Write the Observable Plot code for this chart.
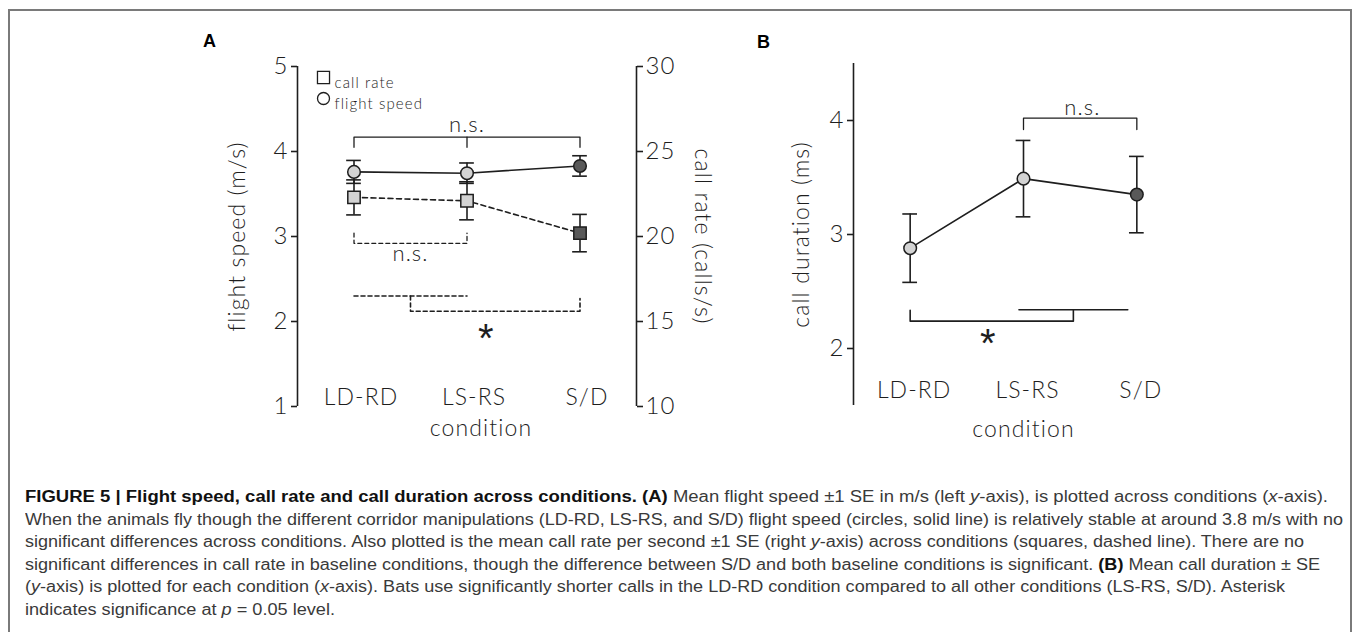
<!DOCTYPE html>
<html><head><meta charset="utf-8">
<script src="https://cdn.jsdelivr.net/npm/d3@7"></script>
<script src="https://cdn.jsdelivr.net/npm/@observablehq/plot@0.6"></script>
<style>
html,body{margin:0;padding:0;background:#fff;}
body{width:1358px;height:632px;overflow:hidden;position:relative;}
#box{position:absolute;left:8px;top:9px;width:1344px;height:660px;border:2px solid #7a7a7a;box-sizing:border-box;}
.panel{position:absolute;}
.panel svg text{letter-spacing:1.1px;}
.plbl{position:absolute;font:bold 18px "Liberation Sans",Arial,sans-serif;color:#000;line-height:1;}
.cl{position:absolute;left:25px;white-space:nowrap;font:16px "Liberation Sans",Arial,sans-serif;color:#3a3a3a;transform-origin:0 50%;line-height:1;}
.cl b{color:#111;}
</style></head><body>
<div id="box"></div>
<div class="plbl" style="left:203px;top:32px">A</div>
<div class="plbl" style="left:757px;top:33px">B</div>
<div id="pA1" class="panel" style="left:160px;top:30px"></div>
<div id="pA2" class="panel" style="left:160px;top:30px"></div>
<div id="pB" class="panel" style="left:700px;top:30px"></div>
<div id="cap"></div>
<script>
// ---------- data ----------
const conditions = ["LD-RD", "LS-RS", "S/D"];
const flightSpeed = [3.76, 3.745, 3.83];        // m/s
const flightSpeedSE = [0.135, 0.12, 0.12];
const callRate = [22.3, 22.1, 20.2];             // calls/s
const callRateSE = [1.03, 1.12, 1.1];
const callDuration = [2.88, 3.49, 3.35];         // ms
const callDurationSE = [0.30, 0.335, 0.335];
const speedTicks = [1, 2, 3, 4, 5];
const rateTicks = [10, 15, 20, 25, 30];
const durationTicks = [2, 3, 4];

// ---------- styles ----------
const ink = "#1e1e1e";
const light = "#d3d3d3";
const dark = "#595959";
const font = 'Lato, "Open Sans", "DejaVu Sans", sans-serif';
const cap = 0.065;       // half width of error-bar caps in x units
const fillOf = d => d.c === "S/D" ? dark : light;

const rowsA = conditions.map((c, i) => ({i, c, fs: flightSpeed[i], fsSE: flightSpeedSE[i], cr: callRate[i], crSE: callRateSE[i]}));
const rowsB = conditions.map((c, i) => ({i, c, cd: callDuration[i], cdSE: callDurationSE[i]}));

// significance brackets (annotation paths in data units)
const bracketSpeed = [
  [[0, 4.05], [0, 4.17], [2, 4.17], [2, 4.05]],
  [[1, 4.17], [1, 4.05]]
];
const bracketRateNS = [[[0, 20.2], [0, 19.6], [1, 19.6], [1, 20.2]]];
const bracketRateStar = [
  [[0, 16.5], [1, 16.5]],
  [[0.5, 16.5], [0.5, 15.6], [2, 15.6], [2, 16.35]]
];
const bracketDurNS = [[[1, 3.92], [1, 4.02], [2, 4.02], [2, 3.92]]];
const bracketDurStar = [
  [[0, 2.335], [0, 2.24], [1.44, 2.24], [1.44, 2.34]],
  [[0.96, 2.34], [1.92, 2.34]]
];
const flat = b => b.flatMap((seg, k) => seg.map(([x, y]) => ({x, y, k})));

const common = {
  style: {fontFamily: font, fontSize: "22px", color: ink, background: "transparent", overflow: "visible", fontWeight: 300}
};

function errorMarks(rows, key, seKey) {
  return [
    Plot.ruleX(rows, {x: "i", y1: d => d[key] - d[seKey], y2: d => d[key] + d[seKey], stroke: ink, strokeWidth: 1.6}),
    Plot.ruleY(rows, {y: d => d[key] + d[seKey], x1: d => d.i - cap, x2: d => d.i + cap, stroke: ink, strokeWidth: 1.6}),
    Plot.ruleY(rows, {y: d => d[key] - d[seKey], x1: d => d.i - cap, x2: d => d.i + cap, stroke: ink, strokeWidth: 1.6})
  ];
}
const star = (x, y) => Plot.text(["*"], {text: d => d, x, y, fontSize: 40, fontFamily: '"Liberation Sans", Arial, sans-serif', fill: ink, dy: 7});

// ---------- Panel A: flight speed (left axis) ----------
const dimsA = {width: 560, height: 420, marginLeft: 137, marginRight: 84, marginTop: 36, marginBottom: 44};
const plotA1 = Plot.plot({
  ...dimsA, ...common,
  x: {domain: [-0.5, 2.5], axis: null},
  y: {domain: [1, 5], axis: null},
  marks: [
    Plot.ruleX([-0.5], {y1: 1, y2: 5, stroke: ink, strokeWidth: 1.6}),
    Plot.axisY({ticks: speedTicks, tickSize: 6, tickPadding: 3, tickFormat: d => d, label: null, fontSize: 24, strokeWidth: 1.6}),
    Plot.text(["flight speed (m/s)"], {text: d => d, frameAnchor: "left", textAnchor: "middle", rotate: -90, dx: -60, fontSize: 23}),
    Plot.line(flat(bracketSpeed), {x: "x", y: "y", z: "k", stroke: ink, strokeWidth: 1.3}),
    Plot.text(["n.s."], {text: d => d, x: 1, y: 4.31, fontSize: 22}),
    ...errorMarks(rowsA, "fs", "fsSE"),
    Plot.line(rowsA, {x: "i", y: "fs", stroke: ink, strokeWidth: 1.6}),
    Plot.dot(rowsA, {x: "i", y: "fs", r: 6.3, fill: fillOf, stroke: ink, strokeWidth: 1.5}),
    Plot.text(rowsA, {x: "i", text: "c", frameAnchor: "bottom", dy: -2, dx: 7, fontSize: 23}),
    Plot.text(["condition"], {text: d => d, frameAnchor: "bottom", dy: 29, dx: 14, fontSize: 23}),
    // legend
    Plot.dot(["call rate"], {frameAnchor: "top-left", dx: 26, dy: 11, symbol: "square", r: 6.8, fill: "white", stroke: ink, strokeWidth: 1.3}),
    Plot.dot(["flight speed"], {frameAnchor: "top-left", dx: 26, dy: 32, r: 6, fill: "white", stroke: ink, strokeWidth: 1.3}),
    Plot.text(["call rate"], {text: d => d, frameAnchor: "top-left", dx: 37, dy: 11, textAnchor: "start", fontSize: 15}),
    Plot.text(["flight speed"], {text: d => d, frameAnchor: "top-left", dx: 37, dy: 32, textAnchor: "start", fontSize: 15})
  ]
});
document.getElementById("pA1").append(plotA1);

// ---------- Panel A: call rate (right axis, overlaid) ----------
const plotA2 = Plot.plot({
  ...dimsA, ...common,
  x: {domain: [-0.5, 2.5], axis: null},
  y: {domain: [10, 30], axis: null},
  marks: [
    Plot.ruleX([2.5], {y1: 10, y2: 30, stroke: ink, strokeWidth: 1.6}),
    Plot.axisY({anchor: "right", ticks: rateTicks, tickSize: 6, tickPadding: 3, tickFormat: d => d, label: null, fontSize: 24, strokeWidth: 1.6}),
    Plot.text(["call rate (calls/s)"], {text: d => d, frameAnchor: "right", textAnchor: "middle", rotate: 90, dx: 66, fontSize: 23}),
    Plot.line(flat(bracketRateNS), {x: "x", y: "y", z: "k", stroke: ink, strokeWidth: 1.3, strokeDasharray: "4,3"}),
    Plot.text(["n.s."], {text: d => d, x: 0.5, y: 19.0, fontSize: 22}),
    Plot.line(flat(bracketRateStar), {x: "x", y: "y", z: "k", stroke: ink, strokeWidth: 1.6, strokeDasharray: "4,3"}),
    star(1.17, 14.35),
    ...errorMarks(rowsA, "cr", "crSE"),
    Plot.line(rowsA, {x: "i", y: "cr", stroke: ink, strokeWidth: 1.6, strokeDasharray: "5,3.5"}),
    Plot.dot(rowsA, {x: "i", y: "cr", symbol: "square", r: 7, fill: fillOf, stroke: ink, strokeWidth: 1.5})
  ]
});
document.getElementById("pA2").append(plotA2);

// ---------- Panel B: call duration ----------
const plotB = Plot.plot({
  width: 540, height: 420, marginLeft: 153, marginRight: 47, marginTop: 33, marginBottom: 45, ...common,
  x: {domain: [-0.5, 2.5], axis: null},
  y: {domain: [1.5, 4.5], axis: null},
  marks: [
    Plot.ruleX([-0.5], {y1: 1.5, y2: 4.5, stroke: ink, strokeWidth: 1.6}),
    Plot.axisY({ticks: durationTicks, tickSize: 6, tickPadding: 3, tickFormat: d => d, label: null, fontSize: 24, strokeWidth: 1.6}),
    Plot.text(["call duration (ms)"], {text: d => d, frameAnchor: "left", textAnchor: "middle", rotate: -90, dx: -52, fontSize: 23}),
    Plot.line(flat(bracketDurNS), {x: "x", y: "y", z: "k", stroke: ink, strokeWidth: 1.3}),
    Plot.text(["n.s."], {text: d => d, x: 1.52, y: 4.11, fontSize: 22}),
    Plot.line(flat(bracketDurStar), {x: "x", y: "y", z: "k", stroke: ink, strokeWidth: 1.6}),
    star(0.69, 2.1),
    ...errorMarks(rowsB, "cd", "cdSE"),
    Plot.line(rowsB, {x: "i", y: "cd", stroke: ink, strokeWidth: 1.6}),
    Plot.dot(rowsB, {x: "i", y: "cd", r: 6.3, fill: fillOf, stroke: ink, strokeWidth: 1.5}),
    Plot.text(rowsB, {x: "i", text: "c", frameAnchor: "bottom", dy: -8, dx: 4, fontSize: 23}),
    Plot.text(["condition"], {text: d => d, frameAnchor: "bottom", dy: 31, fontSize: 23})
  ]
});
document.getElementById("pB").append(plotB);

// ---------- caption ----------
const capLines = [
  ['<b>FIGURE 5 | Flight speed, call rate and call duration across conditions. (A)</b> Mean flight speed ±1 SE in m/s (left <i>y</i>-axis), is plotted across conditions (<i>x</i>-axis).', 1328],
  ['When the animals fly though the different corridor manipulations (LD-RD, LS-RS, and S/D) flight speed (circles, solid line) is relatively stable at around 3.8 m/s with no', 1343],
  ['significant differences across conditions. Also plotted is the mean call rate per second ±1 SE (right <i>y</i>-axis) across conditions (squares, dashed line). There are no', 1304],
  ['significant differences in call rate in baseline conditions, though the difference between S/D and both baseline conditions is significant. <b>(B)</b> Mean call duration ± SE', 1320],
  ['(<i>y</i>-axis) is plotted for each condition (<i>x</i>-axis). Bats use significantly shorter calls in the LD-RD condition compared to all other conditions (LS-RS, S/D). Asterisk', 1285],
  ['indicates significance at <i>p</i> = 0.05 level.', 335]
];
const capEl = document.getElementById("cap");
capLines.forEach(([html, right], k) => {
  const d = document.createElement("div");
  d.className = "cl";
  d.innerHTML = html;
  d.style.top = (489 + k * 22.6) + "px";
  capEl.append(d);
  const w = d.getBoundingClientRect().width;
  d.style.transform = `scaleX(${(right - 25) / w})`;
});
</script>
</body></html>
